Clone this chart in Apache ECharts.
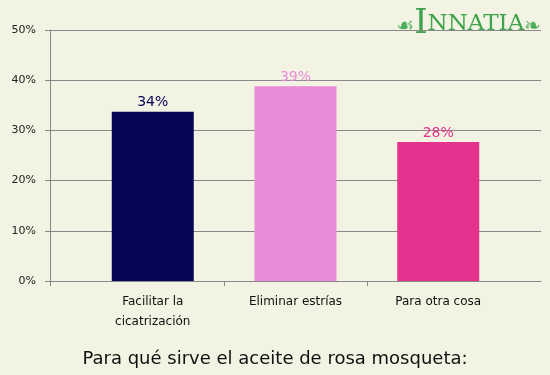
<!DOCTYPE html>
<html>
<head>
<meta charset="utf-8">
<script src="https://cdn.jsdelivr.net/npm/echarts@6/dist/echarts.min.js"></script>
<style>
  html, body { margin: 0; padding: 0; background: #f2f3e2; }
  #main { width: 550px; height: 375px; }
</style>
</head>
<body>
<div id="main"></div>
<script>
var categories = ['Facilitar la\ncicatrización', 'Eliminar estrías', 'Para otra cosa'];
var values = [33.7, 38.8, 27.7];
var barColors = ['#070558', '#e98ad8', '#e4338e'];

var myChart = echarts.init(document.getElementById('main'));

var option = {
    backgroundColor: '#f2f3e2',
    textStyle: { fontFamily: 'DejaVu Sans' },
    title: {
        text: 'Para qué sirve el aceite de rosa mosqueta:',
        left: 'center',
        top: 345,
        textStyle: { fontSize: 18, fontWeight: 'normal', color: '#111', fontFamily: 'DejaVu Sans' }
    },
    graphic: [{
        type: 'text',
        right: 9,
        top: 7,
        style: {
            text: '{o|☙}{a|I}{b|NNATIA}{o|❧}',
            rich: {
                o: { fontSize: 20, fill: '#4caf5b', fontFamily: 'DejaVu Sans', padding: [6, 0, 0, 0] },
                a: { fontSize: 34, fill: '#3fa34d', fontFamily: 'DejaVu Serif' },
                b: { fontSize: 23, fill: '#3fa34d', fontFamily: 'DejaVu Serif' }
            }
        }
    }],
    grid: { left: 50, right: 9, top: 30, bottom: 94 },
    xAxis: {
        type: 'value',
        min: 0.28,
        max: 3.72,
        splitLine: { show: false },
        axisLine: { show: true, lineStyle: { color: '#888' } },
        axisTick: { show: true, customValues: [0.28, 1.5, 2.5], length: 5, lineStyle: { color: '#888' } },
        axisLabel: {
            customValues: [1, 2, 3],
            formatter: function (v) { return categories[Math.round(v) - 1]; },
            fontSize: 12,
            lineHeight: 20,
            margin: 11,
            color: '#111'
        }
    },
    yAxis: {
        type: 'value',
        min: 0,
        max: 50,
        interval: 10,
        axisLine: { show: true, lineStyle: { color: '#888' } },
        axisTick: { show: true, length: 5, lineStyle: { color: '#888' } },
        splitLine: { lineStyle: { color: '#888' } },
        axisLabel: { formatter: '{value}%', fontSize: 11, color: '#222', margin: 14 }
    },
    series: [{
        type: 'bar',
        barWidth: 82,
        data: values.map(function (v, i) {
            return {
                value: [i + 1, v],
                itemStyle: { color: barColors[i] },
                label: { color: barColors[i] }
            };
        }),
        label: {
            show: true,
            position: 'top',
            distance: 2,
            fontSize: 14,
            formatter: function (p) { return Math.round(p.value[1]) + '%'; }
        }
    }]
};

myChart.setOption(option);
</script>
</body>
</html>
